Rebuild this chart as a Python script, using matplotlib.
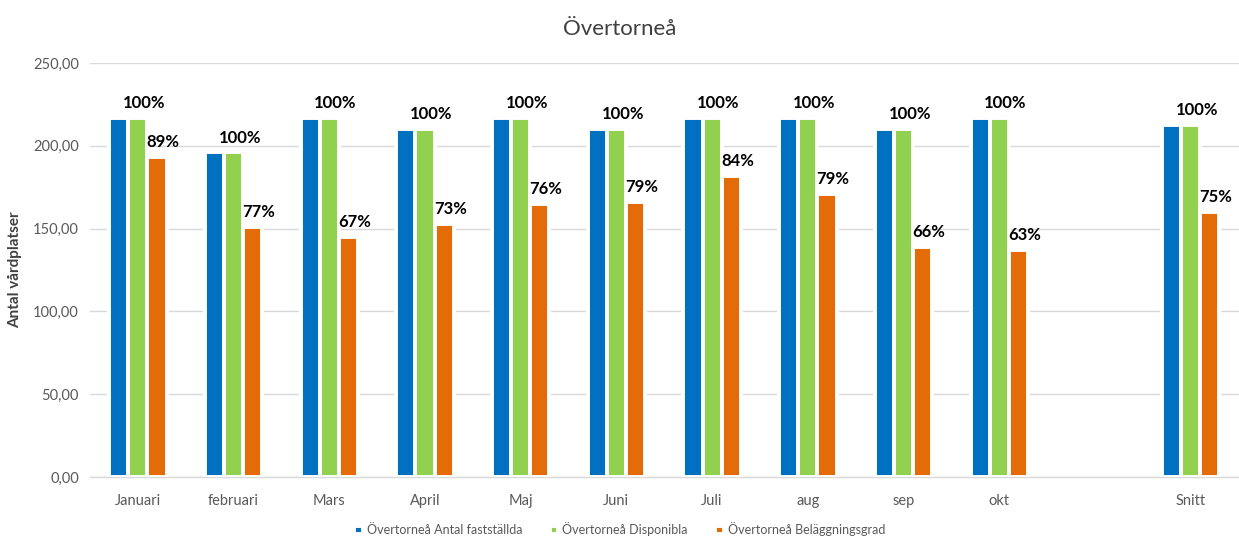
import matplotlib
matplotlib.use('Agg')
import matplotlib.pyplot as plt
import numpy as np

plt.rcParams['font.family'] = ['Lato', 'DejaVu Sans']

months = ['Januari', 'februari', 'Mars', 'April', 'Maj', 'Juni', 'Juli',
          'aug', 'sep', 'okt', '', 'Snitt']
faststallda = [217, 196, 217, 210, 217, 210, 217, 217, 210, 217, None, 212.8]
disponibla = [217, 196, 217, 210, 217, 210, 217, 217, 210, 217, None, 212.8]
belaggning = [193, 151, 145, 153, 165, 166, 182, 171, 139, 137, None, 160.2]
disp_labels = ['100%'] * 10 + [None, '100%']
bel_labels = ['89%', '77%', '67%', '73%', '76%', '79%', '84%', '79%', '66%', '63%', None, '75%']

series = [
    ('Övertorneå Antal fastställda', faststallda, '#0070c0', None),
    ('Övertorneå Disponibla', disponibla, '#92d050', disp_labels),
    ('Övertorneå Beläggningsgrad', belaggning, '#e36c09', bel_labels),
]

fig = plt.figure(figsize=(12.39, 5.39), dpi=100)
ax = fig.add_axes([0.0726, 0.115, 0.927, 0.768])

x = np.arange(len(months))
w = 0.2
for i, (name, vals, col, labs) in enumerate(series):
    xs = [xi + (i - 1) * w for xi, v in zip(x, vals) if v is not None]
    vs = [v for v in vals if v is not None]
    ax.bar(xs, vs, width=w, color=col, edgecolor='white', linewidth=2.8,
           label=name, zorder=3)
    if labs:
        labs = [l for l in labs if l is not None]
        for xi, v, l in zip(xs, vs, labs):
            # Excel-style labels sit a little right of the bar centre
            ax.annotate(l, (xi, v), xytext=(4.5, 5), textcoords='offset points',
                        ha='center', va='bottom', fontsize=12,
                        fontweight='bold', color='black')

ax.set_xlim(-0.5, len(months) - 0.5)
ax.set_ylim(0, 250)
ax.set_yticks(np.arange(0, 251, 50))
ax.set_yticklabels([f'{v:.2f}'.replace('.', ',') for v in np.arange(0, 251, 50)])
ax.set_xticks(x)
ax.set_xticklabels(months)
ax.tick_params(axis='both', length=0, labelsize=10.5, colors='#595959')
ax.tick_params(axis='x', pad=12)
ax.tick_params(axis='y', pad=8)
ax.grid(axis='y', color='#d9d9d9', linewidth=1, zorder=0)
for s in ['top', 'right', 'left']:
    ax.spines[s].set_visible(False)
ax.spines['bottom'].set_color('#d9d9d9')
ax.spines['bottom'].set_linewidth(1)

ax.set_ylabel('Antal vårdplatser', fontsize=11, fontweight='bold', color='#404040',
              labelpad=8)
fig.suptitle('Övertorneå', fontsize=16, color='#404040', y=0.965)

fig.legend(loc='lower center', bbox_to_anchor=(0.5, -0.016), ncol=3, frameon=False,
           fontsize=9, handlelength=0.7, handleheight=0.7, handletextpad=0.3,
           columnspacing=2.2, labelcolor='#595959')

fig.savefig('out.png', dpi=100)
